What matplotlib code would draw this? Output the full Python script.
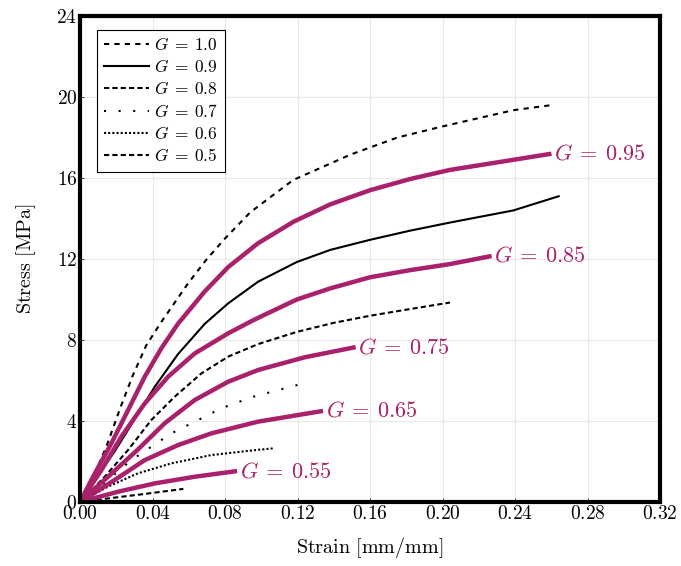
import matplotlib
matplotlib.use('Agg')
from matplotlib import pyplot as plt

plt.rcParams['mathtext.fontset'] = 'cm'
plt.rcParams['font.family'] = 'serif'
plt.rcParams['font.serif'] = ['DejaVu Serif']

MAGENTA = '#A8216A'

# reference curves (black, in legend)
g10_x = [0, 0.0062, 0.0145, 0.0228, 0.0292, 0.0366, 0.0449, 0.0596, 0.0695, 0.0798,
         0.0938, 0.1175, 0.149, 0.175, 0.20, 0.239, 0.26]
g10_y = [0, 1.0, 2.73, 4.79, 6.27, 7.75, 8.9, 10.8, 11.95, 13.0,
         14.3, 15.9, 17.15, 18.0, 18.55, 19.35, 19.6]
g09_x = [0, 0.0099, 0.0191, 0.0302, 0.0412, 0.054, 0.0688, 0.0817, 0.0982, 0.1195,
         0.138, 0.16, 0.182, 0.204, 0.239, 0.264]
g09_y = [0, 1.3, 2.5, 4.1, 5.69, 7.3, 8.8, 9.81, 10.88, 11.85,
         12.45, 12.95, 13.4, 13.8, 14.4, 15.1]
g08_x = [0, 0.0136, 0.0265, 0.0393, 0.0522, 0.0669, 0.0817, 0.0982, 0.1195, 0.14,
         0.16, 0.18, 0.204]
g08_y = [0, 1.25, 2.57, 4.05, 5.2, 6.35, 7.18, 7.8, 8.4, 8.85,
         9.2, 9.5, 9.85]
g07_x = [0, 0.0154, 0.0283, 0.0393, 0.0504, 0.0651, 0.078, 0.0955, 0.125]
g07_y = [0, 1.09, 2.07, 2.73, 3.39, 4.05, 4.63, 5.2, 5.9]
g06_x = [0, 0.0154, 0.032, 0.0504, 0.0724, 0.0982, 0.1066]
g06_y = [0, 0.76, 1.42, 1.91, 2.32, 2.58, 2.65]
g05_x = [0, 0.0173, 0.0357, 0.057]
g05_y = [0, 0.2, 0.4, 0.65]

# interpolated curves (magenta, labelled at end)
g095_x = [0, 0.0081, 0.0173, 0.0265, 0.0357, 0.0449, 0.054, 0.0688, 0.0817, 0.0982,
          0.1177, 0.138, 0.16, 0.182, 0.204, 0.232, 0.26]
g095_y = [0, 1.4, 2.9, 4.54, 6.19, 7.6, 8.8, 10.4, 11.6, 12.78,
          13.84, 14.7, 15.4, 15.95, 16.4, 16.8, 17.2]
g085_x = [0, 0.0118, 0.0228, 0.0357, 0.0486, 0.0633, 0.0817, 0.096, 0.1195, 0.138,
          0.16, 0.182, 0.204, 0.227]
g085_y = [0, 1.58, 3.23, 4.87, 6.19, 7.34, 8.33, 9.0, 10.0, 10.55,
          11.1, 11.45, 11.75, 12.15]
g075_x = [0, 0.0173, 0.032, 0.0467, 0.0633, 0.0817, 0.0982, 0.124, 0.152]
g075_y = [0, 1.4, 2.6, 3.89, 5.04, 5.94, 6.52, 7.15, 7.65]
g065_x = [0, 0.0191, 0.0357, 0.054, 0.0724, 0.0982, 0.134]
g065_y = [0, 1.09, 2.07, 2.81, 3.39, 3.97, 4.5]
g055_x = [0, 0.021, 0.0412, 0.0633, 0.0866]
g055_y = [0, 0.51, 0.92, 1.25, 1.53]

xticks = [0, 0.04, 0.08, 0.12, 0.16, 0.20, 0.24, 0.28, 0.32]
yticks = [0, 4, 8, 12, 16, 20, 24]

fig = plt.figure(figsize=(6.81, 5.66), dpi=100)
ax = fig.add_axes([0.1175, 0.113, 0.852, 0.8587])

black = [
    (g10_x, g10_y, (0, (2.5, 2.5)), r'$G\:=\:1.0$'),
    (g09_x, g09_y, '-', r'$G\:=\:0.9$'),
    (g08_x, g08_y, (0, (2.5, 1.5)), r'$G\:=\:0.8$'),
    (g07_x, g07_y, (0, (1, 6)), r'$G\:=\:0.7$'),
    (g06_x, g06_y, (0, (1, 1)), r'$G\:=\:0.6$'),
    (g05_x, g05_y, (0, (2.5, 1.5)), r'$G\:=\:0.5$'),
]
for x, y, ls, lab in black:
    ax.plot(x, y, color='black', lw=1.5, ls=ls, label=lab, solid_joinstyle='round')

magenta = [
    (g095_x, g095_y, r'$G\:=\:0.95$'),
    (g085_x, g085_y, r'$G\:=\:0.85$'),
    (g075_x, g075_y, r'$G\:=\:0.75$'),
    (g065_x, g065_y, r'$G\:=\:0.65$'),
    (g055_x, g055_y, r'$G\:=\:0.55$'),
]
for x, y, lab in magenta:
    ax.plot(x, y, color=MAGENTA, lw=3.2, solid_capstyle='butt', solid_joinstyle='round')
    ax.annotate(lab, xy=(x[-1], y[-1]), xytext=(2, 0), textcoords='offset points',
                ha='left', va='center', color=MAGENTA, fontsize=16)

ax.set_xlim(0, 0.32)
ax.set_ylim(0, 24)
ax.set_xticks(xticks)
ax.set_xticklabels(['$%.2f$' % t for t in xticks])
ax.set_yticks(yticks)
ax.set_yticklabels(['$%d$' % t for t in yticks])
ax.tick_params(direction='in', length=3, width=0.5, labelsize=14, pad=2)
ax.grid(True, color='#e8e8e8', lw=0.8)
ax.set_axisbelow(True)
for s in ax.spines.values():
    s.set_linewidth(3)

ax.set_xlabel(r'$\mathrm{Strain\ [mm/mm]}$', fontsize=14.5, labelpad=9)
ax.set_ylabel(r'$\mathrm{Stress\ [MPa]}$', fontsize=14.5, labelpad=13)

leg = ax.legend(loc='upper left', bbox_to_anchor=(0.029, 0.971), borderaxespad=0,
                fontsize=12.5, fancybox=False, edgecolor='black', framealpha=1,
                handlelength=2.6, handletextpad=0.3, labelspacing=0.3,
                borderpad=0.4)
leg.get_frame().set_linewidth(0.8)

fig.savefig('out.png', dpi=100)
